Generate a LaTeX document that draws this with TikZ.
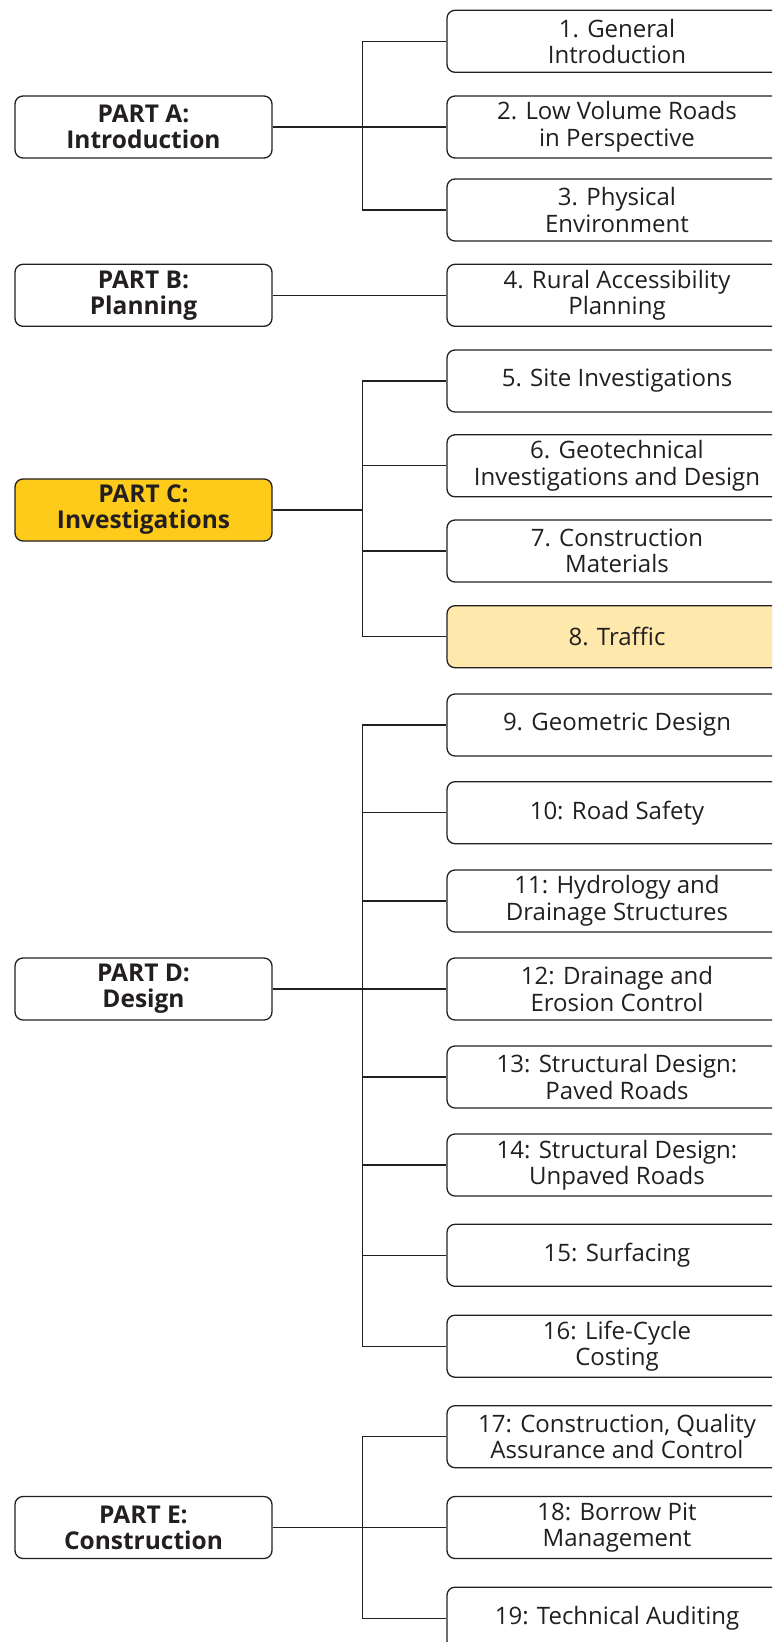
\documentclass[tikz,border=0pt]{standalone}
\usepackage{fontspec}
\setmainfont{Open Sans}
\usepackage{xcolor}
\definecolor{ink}{RGB}{35,31,32}
\definecolor{gold}{RGB}{254,203,26}
\definecolor{cream}{RGB}{255,232,172}
\usepackage{tikz}
\usetikzlibrary{positioning, calc}

\tikzset{
    partbox/.style={draw=ink, line width=1.3pt, rounded corners=8pt, fill=white,
        minimum width=257pt, minimum height=62pt, align=center, text=ink,
        font=\fontsize{24.5}{26}\selectfont\bfseries},
    chapbox/.style={draw=ink, line width=1.3pt, rounded corners=8pt, fill=white,
        minimum width=340pt, minimum height=62pt, align=center, text=ink,
        font=\fontsize{24}{26.5}\selectfont},
    link/.style={draw=ink, line width=1.3pt}
}

\begin{document}
\begin{tikzpicture}[x=1pt, y=-1pt]
    \useasboundingbox (0,0) rectangle (772,1642);
    \clip (0,0) rectangle (772,1642);
    \fill[white] (0,0) rectangle (772,1642);

    % trunk position
    \coordinate (tr) at (362.3,0);

    % chapters
    \node[chapbox] (c1) at (617,41.3) {1. General\\Introduction};
    \node[chapbox] (c2) at (617,127) {2. Low Volume Roads\\in Perspective};
    \node[chapbox] (c3) at (617,210) {3. Physical\\Environment};
    \node[chapbox] (c4) at (617,295.3) {4. Rural Accessibility\\Planning};
    \node[chapbox] (c5) at (617,381) {5. Site Investigations};
    \node[chapbox] (c6) at (617,465.8) {6. Geotechnical\\Investigations and Design};
    \node[chapbox] (c7) at (617,551) {7. Construction\\Materials};
    \node[chapbox, fill=cream] (c8) at (617,636.7) {8. Traffic};
    \node[chapbox] (c9) at (617,725) {9. Geometric Design};
    \node[chapbox] (c10) at (617,812.7) {10: Road Safety};
    \node[chapbox] (c11) at (617,901) {11: Hydrology and\\Drainage Structures};
    \node[chapbox] (c12) at (617,989) {12: Drainage and\\Erosion Control};
    \node[chapbox] (c13) at (617,1077) {13: Structural Design:\\Paved Roads};
    \node[chapbox] (c14) at (617,1165) {14: Structural Design:\\Unpaved Roads};
    \node[chapbox] (c15) at (617,1255.3) {15: Surfacing};
    \node[chapbox] (c16) at (617,1346.2) {16: Life-Cycle\\Costing};
    \node[chapbox] (c17) at (617,1436.7) {17: Construction, Quality\\Assurance and Control};
    \node[chapbox] (c18) at (617,1527.5) {18: Borrow Pit\\Management};
    \node[chapbox] (c19) at (617,1618.2) {19: Technical Auditing};

    % parts
    \node[partbox] (pa) at (143.5,127) {PART A:\\Introduction};
    \node[partbox] (pb) at (143.5,295.3) {PART B:\\Planning};
    \node[partbox, fill=gold] (pc) at (143.5,510) {PART C:\\Investigations};
    \node[partbox] (pd) at (143.5,989) {PART D:\\Design};
    \node[partbox] (pe) at (143.5,1527.5) {PART E:\\Construction};

    % connectors
    \draw[link] (c1.west) -- (c1.west -| tr) |- (c3.west);
    \draw[link] (pa.east) -- (c2.west);
    \draw[link] (pb.east) -- (c4.west);
    \draw[link] (c5.west) -- (c5.west -| tr) |- (c8.west);
    \foreach \i in {6,7}
        \draw[link] (c\i.west) -- (c\i.west -| tr);
    \draw[link] (pc.east) -- (pc.east -| tr);
    \draw[link] (c9.west) -- (c9.west -| tr) |- (c16.west);
    \foreach \i in {10,11,13,14,15}
        \draw[link] (c\i.west) -- (c\i.west -| tr);
    \draw[link] (pd.east) -- (c12.west);
    \draw[link] (c17.west) -- (c17.west -| tr) |- (c19.west);
    \draw[link] (pe.east) -- (c18.west);
\end{tikzpicture}
\end{document}
